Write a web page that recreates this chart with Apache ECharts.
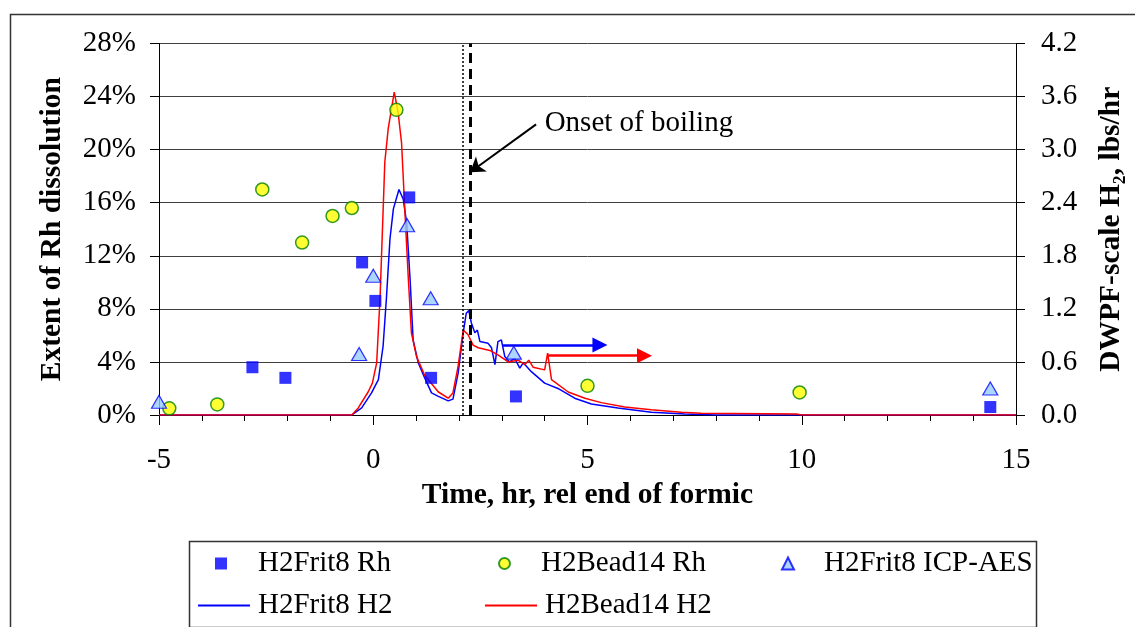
<!DOCTYPE html>
<html><head><meta charset="utf-8">
<script src="https://cdn.jsdelivr.net/npm/echarts@6/dist/echarts.min.js"></script>
<style>html,body{margin:0;padding:0;background:#fff}#c{width:1135px;height:627px}</style>
</head><body><div id="c"></div>
<script>
// ---- data ----
const frit8RhTime = [-2.82, -2.05, -0.26, 0.05, 0.84, 1.35, 3.33, 14.4];
const frit8RhVal  = [3.6, 2.8, 11.5, 8.6, 16.4, 2.8, 1.4, 0.6];
const bead14RhTime = [-4.76, -3.64, -2.59, -1.66, -0.95, -0.5, 0.54, 5.0, 9.95];
const bead14RhVal  = [0.5, 0.8, 17.0, 13.0, 15.0, 15.6, 23.0, 2.2, 1.7];
const frit8IcpTime = [-5.0, -0.33, 0.0, 0.79, 1.34, 3.28, 14.4];
const frit8IcpVal  = [1.0, 4.6, 10.5, 14.3, 8.8, 4.7, 2.0];
const frit8H2Time = [-5, -0.5, -0.27, -0.04, 0.12, 0.23, 0.31, 0.39, 0.47, 0.6, 0.7, 0.78, 0.86, 0.93, 1.05, 1.2, 1.36, 1.52, 1.75, 1.86, 1.98, 2.1, 2.17, 2.23, 2.29, 2.37, 2.43, 2.49, 2.68, 2.76, 2.84, 2.91, 2.99, 3.07, 3.18, 3.3, 3.42, 3.5, 3.69, 4.0, 4.31, 4.7, 5.09, 5.71, 6.49, 7.27, 8.0, 10.3, 15];
const frit8H2Val  = [0, 0, 0.08, 0.25, 0.40, 0.78, 1.34, 1.99, 2.33, 2.55, 2.44, 2.17, 1.53, 0.85, 0.59, 0.42, 0.25, 0.21, 0.16, 0.18, 0.47, 0.93, 1.15, 1.18, 1.04, 0.93, 0.96, 0.83, 0.81, 0.76, 0.57, 0.83, 0.85, 0.66, 0.60, 0.64, 0.53, 0.59, 0.49, 0.36, 0.30, 0.19, 0.125, 0.08, 0.03, 0.01, 0, 0, 0];
const bead14H2Time = [-5, -0.5, -0.35, -0.12, -0.02, 0.08, 0.16, 0.27, 0.35, 0.49, 0.58, 0.66, 0.74, 0.82, 0.89, 1.01, 1.2, 1.52, 1.75, 1.86, 1.98, 2.1, 2.12, 2.21, 2.33, 2.45, 2.72, 2.91, 3.15, 3.38, 3.54, 3.63, 3.73, 4.0, 4.07, 4.16, 4.55, 4.94, 5.32, 5.87, 6.49, 7.19, 7.65, 9.9, 10.0, 15];
const bead14H2Val  = [0, 0, 0.08, 0.26, 0.36, 0.59, 1.34, 2.86, 3.24, 3.65, 3.42, 3.08, 2.29, 1.53, 0.93, 0.66, 0.45, 0.26, 0.19, 0.25, 0.55, 0.96, 0.98, 0.91, 0.79, 0.76, 0.73, 0.68, 0.60, 0.62, 0.57, 0.62, 0.54, 0.51, 0.70, 0.40, 0.26, 0.19, 0.14, 0.09, 0.06, 0.03, 0.02, 0.01, 0, 0];
const xTicks = [-5, 0, 5, 10, 15];
const leftTicks = [0, 4, 8, 12, 16, 20, 24, 28];
const rightTicks = [0.0, 0.6, 1.2, 1.8, 2.4, 3.0, 3.6, 4.2];
const boilingLines = [2.08, 2.27];
const blueArrow = [[3.03, 0.79], [5.29, 0.79]];
const redArrow = [[4.08, 0.67], [6.33, 0.67]];
const onsetArrow = [[3.8, 21.9], [2.26, 18.3]];
const onsetText = [4.0, 22.0];

const zip = (a, b) => a.map((v, i) => [v, b[i]]);
const F = "'Liberation Serif','Times New Roman',serif";
const FS = 29;
const TS = 29.5;

const chart = echarts.init(document.getElementById('c'));
const legendBase = {orient:'horizontal', padding:0, itemGap:0, selectedMode:false};
chart.setOption({
  animation: false,
  backgroundColor: '#fff',
  grid: {left:159, right:119, top:43.5, bottom:212},
  xAxis: {
    type:'value', min:xTicks[0], max:xTicks[xTicks.length-1], interval:5,
    axisLine:{onZero:false, lineStyle:{color:'#000', width:1}},
    axisTick:{show:true, length:10, lineStyle:{color:'#000'}},
    minorTick:{show:true, splitNumber:5, length:6, lineStyle:{color:'#000'}},
    splitLine:{show:false},
    axisLabel:{fontFamily:F, fontSize:FS, color:'#000', margin:31},
    name:'Time, hr, rel end of formic', nameLocation:'middle', nameGap:61,
    nameTextStyle:{fontFamily:F, fontSize:TS, fontWeight:'bold', color:'#000'}
  },
  yAxis: [{
    type:'value', min:leftTicks[0], max:leftTicks[leftTicks.length-1], interval:4, position:'left',
    axisLine:{show:true, onZero:false, lineStyle:{color:'#000', width:1}},
    axisTick:{show:true, length:9, lineStyle:{color:'#000'}},
    splitLine:{show:true, lineStyle:{color:'#404040', width:1}},
    axisLabel:{fontFamily:F, fontSize:FS, color:'#000', margin:23, formatter:'{value}%'},
    name:'Extent of Rh dissolution', nameLocation:'middle', nameGap:92, nameRotate:90,
    nameTextStyle:{fontFamily:F, fontSize:TS, fontWeight:'bold', color:'#000'}
  }, {
    type:'value', min:rightTicks[0], max:rightTicks[rightTicks.length-1], interval:0.6, position:'right',
    axisLine:{show:true, onZero:false, lineStyle:{color:'#000', width:1}},
    axisTick:{show:true, length:9, lineStyle:{color:'#000'}},
    splitLine:{show:false},
    axisLabel:{fontFamily:F, fontSize:FS, color:'#000', margin:25, formatter:v=>v.toFixed(1)},
    name:'DWPF-scale H\u2082, lbs/hr', nameLocation:'middle', nameGap:80, nameRotate:90,
    nameTextStyle:{fontFamily:F, fontSize:TS, fontWeight:'bold', color:'#000'}
  }],
  legend: [
    Object.assign({}, legendBase, {data:['H2Frit8 Rh'], left:215, top:549, itemWidth:12, itemHeight:12, textStyle:{fontFamily:F, fontSize:FS, color:'#000', padding:[0,0,0,26]}}),
    Object.assign({}, legendBase, {data:['H2Bead14 Rh'], left:498, top:549, itemWidth:11, itemHeight:11, textStyle:{fontFamily:F, fontSize:FS, color:'#000', padding:[0,0,0,26]}}),
    Object.assign({}, legendBase, {data:['H2Frit8 ICP-AES'], left:781, top:549, itemWidth:12, itemHeight:12, textStyle:{fontFamily:F, fontSize:FS, color:'#000', padding:[0,0,0,25]}}),
    Object.assign({}, legendBase, {data:[{name:'H2Frit8 H2', icon:'rect'}], left:198, top:591, itemWidth:52, itemHeight:2, textStyle:{fontFamily:F, fontSize:FS, color:'#000', padding:[0,0,0,3]}}),
    Object.assign({}, legendBase, {data:[{name:'H2Bead14 H2', icon:'rect'}], left:485, top:591, itemWidth:52, itemHeight:2, textStyle:{fontFamily:F, fontSize:FS, color:'#000', padding:[0,0,0,3]}})
  ],
  graphic: [
    {type:'rect', left:8, top:12, shape:{width:1200, height:700}, style:{fill:'none', stroke:'#333', lineWidth:1.5}, silent:true, z:-1},
    {type:'rect', left:187, top:539, shape:{width:847, height:86}, style:{fill:'none', stroke:'#333', lineWidth:1.5}, silent:true}
  ],
  series: [
    {
      name:'H2Frit8 H2', type:'line', yAxisIndex:1, data:zip(frit8H2Time, frit8H2Val),
      symbol:'none', showSymbol:false, lineStyle:{color:'#0000ff', width:1.5}, itemStyle:{color:'#0000ff'}, z:2,
      markLine:{silent:true, symbol:['none','triangle'], symbolSize:15, label:{show:false},
        lineStyle:{color:'#0000ff', width:2.5, type:'solid'},
        data:[[{coord:blueArrow[0]}, {coord:blueArrow[1]}]]}
    },
    {
      name:'H2Bead14 H2', type:'line', yAxisIndex:1, data:zip(bead14H2Time, bead14H2Val),
      symbol:'none', showSymbol:false, lineStyle:{color:'#ff0000', width:1.5}, itemStyle:{color:'#ff0000'}, z:3,
      markLine:{silent:true, symbol:['none','triangle'], symbolSize:15, label:{show:false},
        lineStyle:{color:'#ff0000', width:2.5, type:'solid'},
        data:[[{coord:redArrow[0]}, {coord:redArrow[1]}]]}
    },
    {
      name:'H2Frit8 Rh', type:'scatter', yAxisIndex:0, data:zip(frit8RhTime, frit8RhVal),
      symbol:'rect', symbolSize:12, itemStyle:{color:'#0000ff'}, z:5,
      markLine:{silent:true, symbol:['none','none'], label:{show:false},
        data:[
          {xAxis:boilingLines[0], lineStyle:{color:'#000', width:1.5, type:[2,2]}},
          {xAxis:boilingLines[1], lineStyle:{color:'#000', width:3, type:[10,6]}}
        ]}
    },
    {
      name:'H2Bead14 Rh', type:'scatter', yAxisIndex:0, data:zip(bead14RhTime, bead14RhVal),
      symbol:'circle', symbolSize:13, itemStyle:{color:'#ffff00', borderColor:'#008000', borderWidth:1.5}, z:5,
      markLine:{silent:true, symbol:['none','arrow'], symbolSize:14, label:{show:false},
        lineStyle:{color:'#000', width:2, type:'solid'},
        data:[[{coord:onsetArrow[0]}, {coord:onsetArrow[1]}]]},
      markPoint:{silent:true, symbol:'rect', symbolSize:0,
        label:{show:true, position:'right', distance:0, fontFamily:F, fontSize:FS, color:'#000', formatter:'Onset of boiling'},
        data:[{coord:onsetText}]}
    },
    {
      name:'H2Frit8 ICP-AES', type:'scatter', yAxisIndex:0, data:zip(frit8IcpTime, frit8IcpVal),
      symbol:'triangle', symbolSize:[15,13], itemStyle:{color:'#99ccff', borderColor:'#0000ff', borderWidth:1.2}, z:5
    }
  ]
});
</script></body></html>
